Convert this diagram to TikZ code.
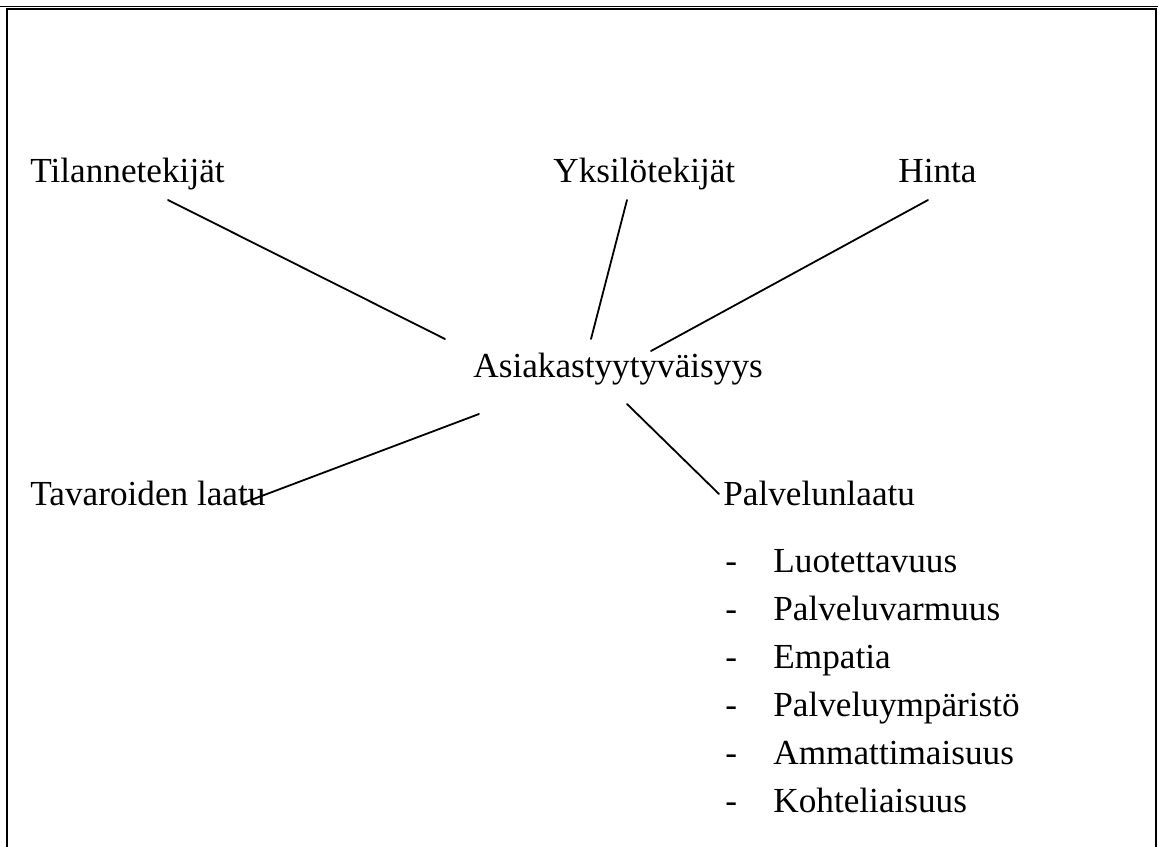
\documentclass[tikz,border=0pt]{standalone}
\usepackage{fontspec}
\setmainfont{Liberation Serif}
\usepackage{tikz}
\definecolor{frame}{HTML}{000000}
\definecolor{shade}{HTML}{C0C0C0}
\tikzset{
  px/.style={x=0.5pt, y=-0.5pt},
  box/.style={draw=frame, line width=1pt},
  base/.style={draw=black, line width=0.9pt, line cap=round},
  lab/.style={anchor=base west, inner sep=0pt, font=\fontsize{17.6pt}{20pt}\selectfont}
}

\begin{document}
\begin{tikzpicture}[px]
  \useasboundingbox (0,0) rectangle (1158,847);
  \draw[shade, line width=0.75pt] (0,6.5) -- (1158,6.5);
  \draw[box] (7,847) -- (7,9) -- (1156,9) -- (1156,847);

  \node[lab] (tila) at (30,182) {Tilannetekijät};
  \node[lab] (yksi) at (553,182) {Yksilötekijät};
  \node[lab] (hinta) at (898,182) {Hinta};
  \node[lab] (asia) at (473,377) {Asiakastyytyväisyys};
  \node[lab] (tava) at (30,505) {Tavaroiden laatu};
  \node[lab] (palv) at (723,505) {Palvelunlaatu};

  \coordinate (tilaA) at (168,200);
  \coordinate (tilaB) at (445,339);
  \coordinate (yksiA) at (627,200);
  \coordinate (yksiB) at (591,339);
  \coordinate (hintaA) at (928,200);
  \coordinate (hintaB) at (651,351);
  \coordinate (tavaA) at (479,414);
  \coordinate (tavaB) at (243,503);
  \coordinate (palvA) at (627,404);
  \coordinate (palvB) at (719,494);

  \draw[base] (tilaA) -- (tilaB);
  \draw[base] (yksiA) -- (yksiB);
  \draw[base] (hintaA) -- (hintaB);
  \draw[base] (tavaA) -- (tavaB);
  \draw[base] (palvA) -- (palvB);

  \foreach \t [count=\i] in {Luotettavuus,Palveluvarmuus,Empatia,Palveluympäristö,Ammattimaisuus,Kohteliaisuus}{
    \node[lab] (dash\i) at (725,{572+48*(\i-1)}) {-};
    \node[lab] (item\i) at (773,{572+48*(\i-1)}) {\t};
  }
\end{tikzpicture}
\end{document}
